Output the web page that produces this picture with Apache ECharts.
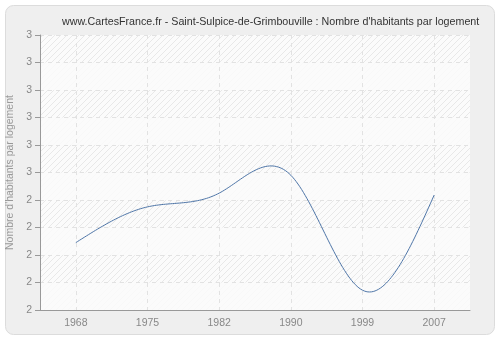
<!DOCTYPE html>
<html>
<head>
<meta charset="utf-8">
<script src="https://cdn.jsdelivr.net/npm/echarts@6/dist/echarts.min.js"></script>
<style>
html,body{margin:0;padding:0;background:#ffffff;}
#chart{width:500px;height:340px;}
</style>
</head>
<body>
<div id="chart"></div>
<script>
var titleText = "www.CartesFrance.fr - Saint-Sulpice-de-Grimbouville : Nombre d'habitants par logement";
var yAxisName = "Nombre d'habitants par logement";
var years = ["1968", "1975", "1982", "1990", "1999", "2007"];
var values = [2.245, 2.375, 2.425, 2.49, 2.072, 2.418];
var yMin = 2.0, yMax = 3.0, yStep = 0.1;

var font = 'Liberation Sans';

function makeHatch() {
  var c = document.createElement('canvas');
  c.width = 6; c.height = 6;
  var g = c.getContext('2d');
  g.fillStyle = '#fbfbfb';
  g.fillRect(0, 0, 6, 6);
  g.strokeStyle = '#e8e8e8';
  g.lineWidth = 1;
  g.beginPath();
  g.moveTo(-1, 7); g.lineTo(7, -1);
  g.moveTo(-1, 1); g.lineTo(1, -1);
  g.moveTo(5, 7); g.lineTo(7, 5);
  g.stroke();
  return c;
}

function titleSize() {
  var c = document.createElement('canvas').getContext('2d');
  c.font = '11px "' + font + '"';
  var w = c.measureText(titleText).width;
  return Math.min(12, 11 * 418 / w);
}

// natural cubic spline through pixel points (even spacing), sampled for drawing
function splinePoints(pts) {
  var n = pts.length - 1;
  var M = new Array(n + 1).fill(0);
  if (n >= 2) {
    var a = [], b = [], c = [], d = [];
    for (var i = 1; i < n; i++) {
      a.push(1); b.push(4); c.push(1);
      d.push(6 * (pts[i + 1][1] - 2 * pts[i][1] + pts[i - 1][1]));
    }
    var m = d.length;
    for (var k = 1; k < m; k++) {
      var w = a[k] / b[k - 1];
      b[k] -= w * c[k - 1];
      d[k] -= w * d[k - 1];
    }
    var sol = new Array(m);
    sol[m - 1] = d[m - 1] / b[m - 1];
    for (var k2 = m - 2; k2 >= 0; k2--) sol[k2] = (d[k2] - c[k2] * sol[k2 + 1]) / b[k2];
    for (var j = 0; j < m; j++) M[j + 1] = sol[j];
  }
  var out = [];
  var steps = 40;
  for (var s = 0; s < n; s++) {
    var x0 = pts[s][0], x1 = pts[s + 1][0];
    var y0 = pts[s][1], y1 = pts[s + 1][1];
    for (var t = 0; t <= steps; t++) {
      if (s > 0 && t === 0) continue;
      var u = t / steps, v = 1 - u;
      var y = v * y0 + u * y1 + ((v * v * v - v) * M[s] + (u * u * u - u) * M[s + 1]) / 6;
      out.push([x0 + (x1 - x0) * u, y]);
    }
  }
  return out;
}

var seriesData = values.map(function (v, i) { return [i, v]; });

var chart = echarts.init(document.getElementById('chart'), null, {renderer: 'canvas'});
chart.setOption({
  animation: false,
  backgroundColor: '#ffffff',
  graphic: [{
    type: 'rect', z: -10, silent: true,
    shape: {x: 5.5, y: 5.5, width: 489, height: 329, r: 8},
    style: {fill: '#efefef', stroke: '#dcdcdc', lineWidth: 1}
  }],
  title: {
    text: titleText, left: 57, top: 12,
    textStyle: {fontFamily: font, fontSize: titleSize(), fontWeight: 'normal', color: '#333333'}
  },
  grid: {
    left: 40, right: 30, top: 35, bottom: 30, show: true,
    outerBoundsMode: 'none', containLabel: false,
    backgroundColor: {image: makeHatch(), repeat: 'repeat'},
    borderWidth: 0
  },
  xAxis: {
    type: 'category', data: years, boundaryGap: true,
    axisLine: {lineStyle: {color: '#999999', width: 1}},
    axisTick: {alignWithLabel: true, length: 5, lineStyle: {color: '#999999'}},
    axisLabel: {color: '#888888', fontFamily: font, fontSize: 10.5, margin: 8},
    splitLine: {show: true, alignWithLabel: true, lineStyle: {color: '#e2e2e2', type: [4, 4], width: 1}}
  },
  yAxis: {
    type: 'value', min: yMin, max: yMax, interval: yStep,
    name: yAxisName, nameLocation: 'middle', nameGap: 23,
    nameTextStyle: {color: '#999999', fontFamily: font, fontSize: 10.5},
    axisLine: {show: true, lineStyle: {color: '#999999', width: 1}},
    axisTick: {show: true, length: 5, lineStyle: {color: '#999999'}},
    axisLabel: {color: '#888888', fontFamily: font, fontSize: 10.5, margin: 8,
      formatter: function (v) { return String(Math.round(v + 1e-9)); }},
    splitLine: {show: true, lineStyle: {color: '#e2e2e2', type: [4, 4], width: 1}},
    splitArea: {show: true, areaStyle: {color: ['rgba(250,250,250,0.85)', 'rgba(255,255,255,0)']}}
  },
  series: [{
    type: 'custom',
    data: seriesData,
    encode: {x: 0, y: 1},
    renderItem: function (params, api) {
      if (params.dataIndex !== 0) return null;
      var pts = seriesData.map(function (d) { return api.coord(d); });
      return {
        type: 'polyline',
        shape: {points: splinePoints(pts)},
        style: {stroke: '#4f76a8', lineWidth: 1, fill: null}
      };
    }
  }]
});
</script>
</body>
</html>
